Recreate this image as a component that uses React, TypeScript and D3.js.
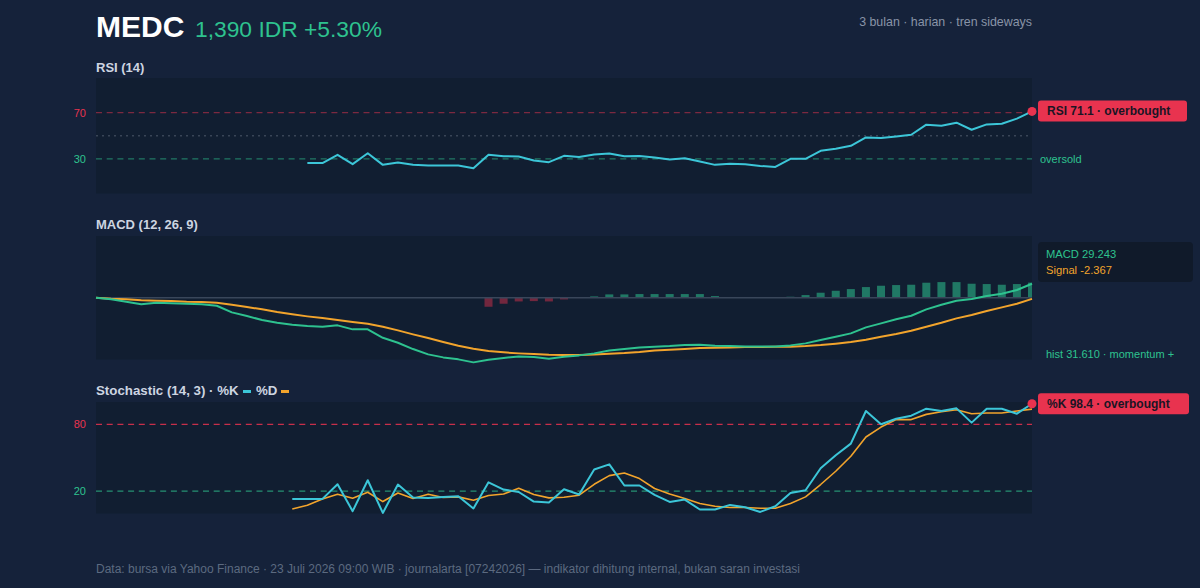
import React from "react";
import * as d3 from "d3";

// ---------- text ----------
const ticker = "MEDC";
const priceText = "1,390 IDR +5.30%";
const subtitle = "3 bulan · harian · tren sideways";
const footerText =
  "Data: bursa via Yahoo Finance · 23 Juli 2026 09:00 WIB · journalarta [07242026] — indikator dihitung internal, bukan saran investasi";

// ---------- data ----------
const nPoints = 63;

const rsiStart = 14;
const rsiValues = [
  26.4, 26.4, 33.5, 25.4, 34.9, 24.8, 26.8, 24.8, 24.2, 24.2, 24.2, 21.9, 33.5, 32.3, 32.0, 28.5,
  27.1, 32.6, 31.6, 33.8, 34.6, 32.3, 32.5, 31.1, 29.4, 30.6, 27.7, 24.8, 25.7, 25.4, 23.9, 23.0,
  30.0, 30.0, 37.0, 38.7, 41.3, 48.5, 48.0, 49.4, 50.9, 59.6, 58.7, 61.3, 55.2, 59.8, 60.4, 64.8,
  71.1,
];
const rsiLevels = { over: 70, mid: 50, under: 30 };

const macdValues = [
  0, -3.3, -8.4, -13.8, -10.5, -11.7, -12.5, -13.8, -16.7, -30.5, -38.2, -46.6, -52.3, -56.4, -59.1,
  -60.6, -57.7, -66.0, -66.0, -83.6, -94.0, -107.2, -118.3, -124.6, -128.7, -135.0, -129.6, -126.0,
  -122.5, -124.0, -127.5, -123.3, -120.4, -116.2, -110.0, -107.2, -104.0, -102.4, -101.0, -98.9,
  -98.2, -100.3, -101.0, -101.6, -101.6, -101.6, -99.5, -95.3, -88.4, -81.5, -74.4, -61.9, -53.5,
  -45.1, -37.6, -24.2, -14.6, -6.3, -2.7, 3.6, 8.4, 16.1, 29.243,
];
const signalValues = [
  0, -2.1, -3.3, -5.4, -6.3, -6.9, -8.4, -9.0, -10.5, -14.6, -19.4, -24.2, -29.9, -34.7, -38.9,
  -42.4, -46.6, -50.8, -54.3, -60.6, -68.1, -76.5, -84.2, -92.6, -100.3, -106.6, -111.4, -114.1,
  -116.2, -117.7, -119.1, -119.8, -119.8, -118.3, -117.0, -115.6, -113.5, -110.0, -108.7, -107.2,
  -105.1, -104.5, -103.7, -103.0, -103.0, -102.4, -102.4, -101.0, -98.9, -96.1, -92.6, -87.8,
  -81.5, -75.9, -69.0, -60.6, -52.3, -43.1, -36.2, -27.8, -20.1, -12.5, -2.367,
];
const histStart = 26;
const histValues = [
  -18.8, -12.5, -7.7, -7.0, -7.7, -3.5, -0.6, 2.8, 7.0, 7.0, 7.7, 7.7, 7.7, 7.7, 7.7, 3.5, 1.4, 1.0,
  0.6, 0.6, 2.1, 5.6, 10.5, 14.6, 18.1, 22.3, 25.1, 26.5, 27.2, 31.4, 32.7, 32.7, 29.3, 28.6, 27.2,
  28.6, 31.61,
];

const stochStart = 13;
const kValues = [
  13.1, 13.1, 13.1, 26.2, 2.1, 29.8, 0.5, 26.0, 14.3, 14.0, 14.9, 15.5, 4.5, 28.0, 21.5, 19.3, 10.7,
  9.8, 21.8, 17.0, 39.4, 44.1, 25.1, 25.1, 16.7, 10.4, 12.5, 3.6, 3.6, 7.7, 5.6, 1.4, 6.5, 18.4,
  20.9, 40.6, 52.2, 62.7, 91.9, 80.0, 85.0, 87.7, 94.0, 91.9, 94.3, 81.5, 94.0, 94.0, 89.5, 98.4,
];
const dValues = [
  4.1, 7.4, 13.1, 17.3, 13.7, 19.1, 10.7, 18.4, 13.4, 17.3, 14.3, 14.9, 11.9, 16.1, 17.5, 22.6,
  17.0, 14.0, 14.6, 16.4, 26.2, 34.0, 36.3, 31.3, 22.4, 17.5, 13.4, 9.0, 6.5, 5.4, 5.4, 4.7, 4.7,
  9.0, 14.9, 26.0, 37.9, 51.3, 68.6, 77.5, 84.2, 84.2, 88.9, 91.3, 93.1, 89.5, 90.1, 90.1, 91.9,
  93.6,
];
const stochLevels = { over: 80, under: 20 };

const macdText = "MACD 29.243";
const signalText = "Signal -2.367";
const histText = "hist 31.610 · momentum +";
const rsiBadge = "RSI 71.1 · overbought";
const stochBadge = "%K 98.4 · overbought";

// ---------- style ----------
const C = {
  bg: "#15223a",
  panel: "#111e31",
  title: "#cdd5e1",
  muted: "#8994a7",
  footer: "#5c6a80",
  green: "#2ec28f",
  red: "#e8334f",
  cyan: "#3cc6d8",
  orange: "#f2a42c",
  zero: "#39465a",
  badgeText: "#1a1524",
  box: "#101a2a",
};
const FONT = "'Liberation Sans', Arial, Helvetica, sans-serif";

const L = 96;
const R = 1032;
const rsiBox = { top: 78, bottom: 193.5 };
const macdBox = { top: 236, bottom: 359.5 };
const stochBox = { top: 402, bottom: 513.5 };

type Pt = { i: number; v: number };

export default function App() {
  const x = d3.scaleLinear().domain([0, nPoints - 1]).range([L, R]);
  const yRsi = d3.scaleLinear().domain([0, 100]).range([rsiBox.bottom, rsiBox.top]);
  const yMacd = d3.scaleLinear().domain([-129, 129]).range([macdBox.bottom, macdBox.top]);
  const ySto = d3.scaleLinear().domain([0, 100]).range([stochBox.bottom, stochBox.top]);

  const mk = (start: number, vals: number[]): Pt[] => vals.map((v, j) => ({ i: start + j, v }));
  const lineOf = (y: d3.ScaleLinear<number, number>) =>
    d3
      .line<Pt>()
      .x((d) => x(d.i))
      .y((d) => y(d.v));

  const rsiPts = mk(rsiStart, rsiValues);
  const macdPts = mk(0, macdValues);
  const sigPts = mk(0, signalValues);
  const histPts = mk(histStart, histValues);
  const kPts = mk(stochStart, kValues);
  const dPts = mk(stochStart, dValues);

  const step = x(1) - x(0);
  const barW = step * 0.53;

  const lastRsi = rsiPts[rsiPts.length - 1];
  const lastK = kPts[kPts.length - 1];

  const hLine = (y: number, color: string, dash: string, op: number, w = 1.2) => (
    <line x1={L} x2={R} y1={y} y2={y} stroke={color} strokeDasharray={dash} strokeOpacity={op} strokeWidth={w} />
  );

  return (
    <svg width={1200} height={588} style={{ display: "block", position: "absolute", left: 0, top: 0 }} fontFamily={FONT}>
      <rect x={0} y={0} width={1200} height={588} fill={C.bg} />
      <defs>
        <clipPath id="macdClip">
          <rect x={L} y={macdBox.top} width={R - L} height={macdBox.bottom - macdBox.top} />
        </clipPath>
      </defs>

      {/* header */}
      <text x={96} y={37} fill="#ffffff" fontSize={30} fontWeight={700}>
        {ticker}
      </text>
      <text x={195} y={37} fill={C.green} fontSize={22.8}>
        {priceText}
      </text>
      <text x={R} y={26} fill={C.muted} fontSize={12.4} textAnchor="end">
        {subtitle}
      </text>

      {/* RSI panel */}
      <text x={96} y={72} fill={C.title} fontSize={13} fontWeight={700}>
        RSI (14)
      </text>
      <rect x={L} y={rsiBox.top} width={R - L} height={rsiBox.bottom - rsiBox.top} fill={C.panel} />
      {hLine(yRsi(rsiLevels.over), C.red, "6,4.7", 0.5)}
      {hLine(yRsi(rsiLevels.mid), "#4a5568", "2,4", 0.7, 1.5)}
      {hLine(yRsi(rsiLevels.under), C.green, "6,4.7", 0.55)}
      <text x={86} y={yRsi(rsiLevels.over) + 4} fill={C.red} fontSize={11} textAnchor="end">
        {rsiLevels.over}
      </text>
      <text x={86} y={yRsi(rsiLevels.under) + 4} fill={C.green} fontSize={11} textAnchor="end">
        {rsiLevels.under}
      </text>
      <path d={lineOf(yRsi)(rsiPts) || ""} fill="none" stroke={C.cyan} strokeWidth={2} strokeLinejoin="round" />
      <circle cx={x(lastRsi.i)} cy={yRsi(lastRsi.v)} r={4.5} fill={C.red} />
      <rect x={1038} y={yRsi(lastRsi.v) - 11} width={149} height={21} rx={3} fill={C.red} />
      <text x={1047} y={yRsi(lastRsi.v) + 4} fill={C.badgeText} fontSize={12} fontWeight={700}>
        {rsiBadge}
      </text>
      <text x={1040} y={yRsi(rsiLevels.under) + 4} fill={C.green} fontSize={11}>
        oversold
      </text>

      {/* MACD panel */}
      <text x={96} y={229} fill={C.title} fontSize={13} fontWeight={700}>
        MACD (12, 26, 9)
      </text>
      <rect x={L} y={macdBox.top} width={R - L} height={macdBox.bottom - macdBox.top} fill={C.panel} />
      <g clipPath="url(#macdClip)">
        {histPts.map((d) => {
          const y0 = yMacd(0);
          const y1 = yMacd(d.v);
          return (
            <rect
              key={d.i}
              x={x(d.i) - barW / 2}
              y={Math.min(y0, y1)}
              width={barW}
              height={Math.abs(y1 - y0)}
              fill={d.v >= 0 ? C.green : C.red}
              fillOpacity={d.v >= 0 ? 0.55 : 0.45}
            />
          );
        })}
      </g>
      <line x1={L} x2={R} y1={yMacd(0)} y2={yMacd(0)} stroke={C.zero} strokeWidth={1.5} />
      <path d={lineOf(yMacd)(sigPts) || ""} fill="none" stroke={C.orange} strokeWidth={2} strokeLinejoin="round" />
      <path d={lineOf(yMacd)(macdPts) || ""} fill="none" stroke={C.green} strokeWidth={2} strokeLinejoin="round" />
      <rect x={1038} y={242} width={155} height={40} rx={4} fill={C.box} />
      <text x={1046} y={258} fill={C.green} fontSize={11.2}>
        {macdText}
      </text>
      <text x={1046} y={274} fill={C.orange} fontSize={11.2}>
        {signalText}
      </text>
      <text x={1046} y={358} fill={C.green} fontSize={11}>
        {histText}
      </text>

      {/* Stochastic panel */}
      <text x={96} y={395} fill={C.title} fontSize={13.3} fontWeight={700}>
        Stochastic (14, 3) · %K
      </text>
      <rect x={243} y={390} width={8} height={3} fill={C.cyan} />
      <text x={256} y={395} fill={C.title} fontSize={13.3} fontWeight={700}>
        %D
      </text>
      <rect x={281} y={390} width={8} height={3} fill={C.orange} />
      <rect x={L} y={stochBox.top} width={R - L} height={stochBox.bottom - stochBox.top} fill={C.panel} />
      {hLine(ySto(stochLevels.over), C.red, "6,4.7", 0.85)}
      {hLine(ySto(stochLevels.under), C.green, "6,4.7", 0.7)}
      <text x={86} y={ySto(stochLevels.over) + 4} fill={C.red} fontSize={11} textAnchor="end">
        {stochLevels.over}
      </text>
      <text x={86} y={ySto(stochLevels.under) + 4} fill={C.green} fontSize={11} textAnchor="end">
        {stochLevels.under}
      </text>
      <path d={lineOf(ySto)(dPts) || ""} fill="none" stroke={C.orange} strokeWidth={1.6} strokeLinejoin="round" />
      <path d={lineOf(ySto)(kPts) || ""} fill="none" stroke={C.cyan} strokeWidth={2} strokeLinejoin="round" />
      <circle cx={x(lastK.i)} cy={ySto(lastK.v)} r={4.5} fill={C.red} />
      <rect x={1038} y={ySto(lastK.v) - 10.5} width={151} height={21} rx={3} fill={C.red} />
      <text x={1047} y={ySto(lastK.v) + 4} fill={C.badgeText} fontSize={12} fontWeight={700}>
        {stochBadge}
      </text>

      {/* footer */}
      <text x={96} y={573} fill={C.footer} fontSize={12}>
        {footerText}
      </text>
    </svg>
  );
}
